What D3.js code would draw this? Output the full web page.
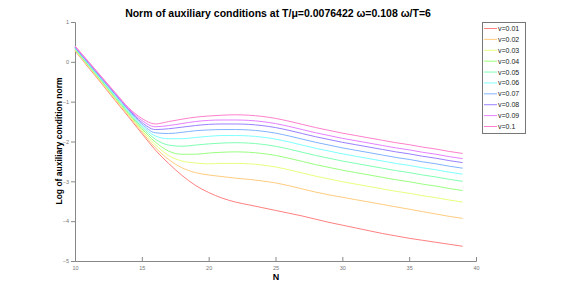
<!DOCTYPE html>
<html>
<head>
<meta charset="utf-8">
<script src="https://cdn.jsdelivr.net/npm/d3@7"></script>
<style>
  body { margin: 0; background: #fff; }
  text { font-family: "Liberation Sans", Arial, sans-serif; }
</style>
</head>
<body>
<script>
// N values on the x axis
const nValues = [10, 11, 12, 13, 14, 15, 16, 17, 18, 19, 20, 21, 22, 23, 24,
  25, 26, 27, 28, 29, 30, 31, 32, 33, 34, 35, 36, 37, 38, 39];

const seriesNames = ["v=0.01", "v=0.02", "v=0.03", "v=0.04", "v=0.05",
  "v=0.06", "v=0.07", "v=0.08", "v=0.09", "v=0.1"];

// log of auxiliary condition norm, one array per v
const v001 = [0.28, -0.14, -0.55, -0.97, -1.38, -1.80, -2.21, -2.55, -2.85, -3.10, -3.28, -3.42, -3.52, -3.59, -3.66,
  -3.73, -3.80, -3.87, -3.95, -4.03, -4.10, -4.17, -4.24, -4.31, -4.37, -4.43, -4.48, -4.53, -4.58, -4.63];
const v002 = [0.29, -0.12, -0.53, -0.95, -1.35, -1.76, -2.15, -2.45, -2.66, -2.78, -2.84, -2.88, -2.92, -2.95, -2.99,
  -3.04, -3.11, -3.19, -3.27, -3.34, -3.40, -3.46, -3.52, -3.58, -3.64, -3.70, -3.76, -3.82, -3.88, -3.93];
const v003 = [0.30, -0.11, -0.51, -0.92, -1.32, -1.72, -2.08, -2.35, -2.49, -2.54, -2.56, -2.55, -2.55, -2.56, -2.59,
  -2.64, -2.71, -2.79, -2.87, -2.94, -3.01, -3.07, -3.13, -3.19, -3.25, -3.30, -3.36, -3.41, -3.47, -3.52];
const v004 = [0.32, -0.09, -0.49, -0.90, -1.30, -1.68, -2.01, -2.24, -2.32, -2.32, -2.29, -2.27, -2.26, -2.27, -2.30,
  -2.35, -2.42, -2.50, -2.58, -2.65, -2.72, -2.78, -2.84, -2.90, -2.96, -3.01, -3.07, -3.12, -3.18, -3.23];
const v005 = [0.33, -0.07, -0.47, -0.87, -1.27, -1.64, -1.94, -2.09, -2.12, -2.09, -2.06, -2.04, -2.03, -2.04, -2.07,
  -2.12, -2.19, -2.27, -2.35, -2.42, -2.49, -2.55, -2.61, -2.67, -2.73, -2.78, -2.84, -2.89, -2.95, -3.00];
const v006 = [0.35, -0.05, -0.45, -0.85, -1.24, -1.60, -1.86, -1.93, -1.93, -1.90, -1.87, -1.85, -1.85, -1.86, -1.89,
  -1.94, -2.01, -2.09, -2.17, -2.24, -2.31, -2.37, -2.43, -2.49, -2.55, -2.60, -2.66, -2.71, -2.77, -2.82];
const v007 = [0.36, -0.04, -0.43, -0.82, -1.21, -1.56, -1.78, -1.80, -1.77, -1.73, -1.71, -1.70, -1.70, -1.71, -1.74,
  -1.79, -1.86, -1.94, -2.02, -2.09, -2.16, -2.22, -2.28, -2.34, -2.40, -2.45, -2.51, -2.56, -2.62, -2.67];
const v008 = [0.37, -0.02, -0.41, -0.80, -1.19, -1.52, -1.70, -1.68, -1.64, -1.60, -1.57, -1.56, -1.56, -1.57, -1.60,
  -1.65, -1.72, -1.80, -1.88, -1.95, -2.02, -2.08, -2.14, -2.20, -2.26, -2.31, -2.37, -2.42, -2.48, -2.53];
const v009 = [0.39, 0.00, -0.39, -0.78, -1.17, -1.47, -1.63, -1.60, -1.55, -1.50, -1.47, -1.46, -1.46, -1.47, -1.50,
  -1.55, -1.62, -1.70, -1.78, -1.85, -1.92, -1.98, -2.04, -2.10, -2.16, -2.21, -2.27, -2.32, -2.38, -2.43];
const v010 = [0.40, 0.01, -0.38, -0.77, -1.15, -1.42, -1.56, -1.50, -1.44, -1.39, -1.36, -1.34, -1.33, -1.34, -1.37,
  -1.42, -1.49, -1.57, -1.65, -1.72, -1.79, -1.85, -1.91, -1.97, -2.03, -2.08, -2.14, -2.19, -2.25, -2.30];

const allSeries = [v001, v002, v003, v004, v005, v006, v007, v008, v009, v010];

const xTicks = [10, 15, 20, 25, 30, 35, 40];
const yTicks = [-5, -4, -3, -2, -1, 0, 1];

const width = 581, height = 294;

const svg = d3.select("body").append("svg")
  .attr("width", width)
  .attr("height", height);

const x = d3.scaleLinear().domain([10, 40]).range([75, 476]);
const y = d3.scaleLinear().domain([-5, 1]).range([261, 22]);

// pastel hsv-ish colours
const color = d3.scaleOrdinal()
  .domain(seriesNames)
  .range(seriesNames.map((s, i) => d3.hsl(i * 36, 1, 0.75).formatHex()));

// axes
const axisColor = "#888";

const xAxis = svg.append("g")
  .attr("transform", "translate(0," + y(-5) + ")")
  .call(d3.axisBottom(x).tickValues(xTicks).tickSize(-4).tickPadding(5).tickFormat(d3.format("d")));

const yAxis = svg.append("g")
  .attr("transform", "translate(" + x(10) + ",0)")
  .call(d3.axisLeft(y).tickValues(yTicks).tickSize(4).tickPadding(2).tickFormat(d3.format("d")));

[xAxis, yAxis].forEach(a => {
  a.select(".domain").attr("stroke", axisColor);
  a.selectAll(".tick line").attr("stroke", axisColor);
  a.selectAll(".tick text")
    .attr("fill", "#777")
    .style("font-size", "5.5px")
    .style("font-family", "Liberation Sans, Arial, sans-serif");
});

// lines
const line = d3.line()
  .x((d, i) => x(nValues[i]))
  .y(d => y(d))
  .curve(d3.curveMonotoneX);

svg.append("g").selectAll("path")
  .data(allSeries)
  .enter()
    .append("path")
      .attr("d", line)
      .attr("fill", "none")
      .attr("stroke", (d, i) => color(seriesNames[i]))
      .attr("stroke-width", 1);

// title and labels
svg.append("text")
  .attr("x", 278)
  .attr("y", 17)
  .attr("text-anchor", "middle")
  .style("font-size", "10.5px")
  .style("font-weight", "bold")
  .text("Norm of auxiliary conditions at T/\u03bc=0.0076422 \u03c9=0.108 \u03c9/T=6");

svg.append("text")
  .attr("x", 276)
  .attr("y", 280)
  .attr("text-anchor", "middle")
  .style("font-size", "9px")
  .style("font-weight", "bold")
  .text("N");

svg.append("text")
  .attr("transform", "translate(62,141) rotate(-90)")
  .attr("text-anchor", "middle")
  .style("font-size", "8.5px")
  .style("font-weight", "bold")
  .text("Log of auxiliary condition norm");

// legend
const legend = svg.append("g");
legend.append("rect")
  .attr("x", 482.5).attr("y", 22.5)
  .attr("width", 43).attr("height", 111)
  .attr("fill", "#fff")
  .attr("stroke", "#777")
  .attr("stroke-width", 1);

const rowY = d3.scalePoint().domain(seriesNames).range([28.5, 126.5]);

const rows = legend.selectAll("g.row")
  .data(seriesNames)
  .enter()
    .append("g")
      .attr("transform", d => "translate(0," + rowY(d) + ")");

rows.append("line")
  .attr("x1", 484).attr("x2", 497)
  .attr("stroke", d => color(d))
  .attr("stroke-width", 1);

rows.append("text")
  .attr("x", 498)
  .attr("y", 2.5)
  .style("font-size", "7px")
  .attr("fill", "#222")
  .text(d => d);
</script>
</body>
</html>
